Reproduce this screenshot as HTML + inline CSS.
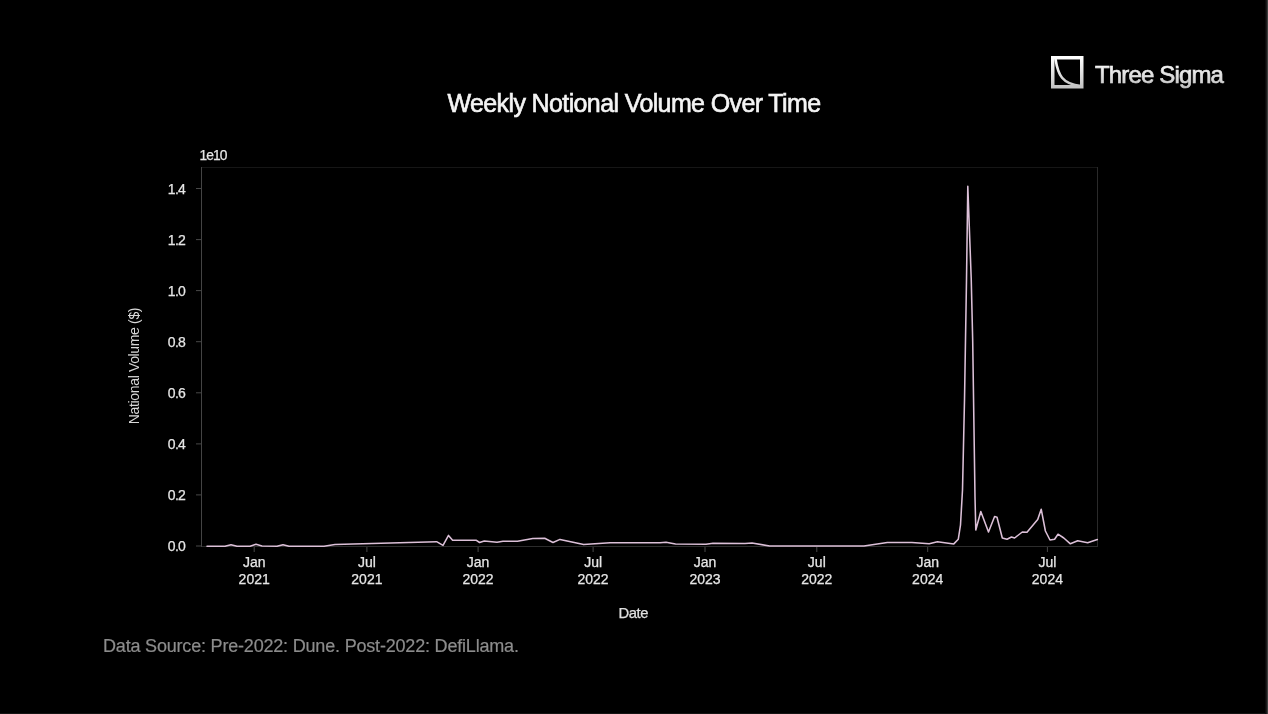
<!DOCTYPE html>
<html>
<head>
<meta charset="utf-8">
<style>
html,body{margin:0;padding:0;background:#000;width:1268px;height:714px;overflow:hidden;}
svg{display:block;filter:blur(0.35px);}
text{font-family:"Liberation Sans",sans-serif;}
</style>
</head>
<body>
<svg width="1268" height="714" viewBox="0 0 1268 714">
<defs>
<linearGradient id="lg" x1="0" y1="0" x2="0" y2="1">
<stop offset="0" stop-color="#ffffff"/>
<stop offset="1" stop-color="#c4c4c4"/>
</linearGradient>
</defs>
<rect x="0" y="0" width="1268" height="714" fill="#000"/>
<g fill="none" stroke="url(#lg)">
<rect x="1052.75" y="57.75" width="29" height="29" stroke-width="3.5"/>
<path d="M1055.5 59 C1058 75 1062 84 1081 86" stroke-width="2.6"/>
</g>
<text x="1095" y="83.4" font-size="24" fill="url(#lg)" stroke="url(#lg)" stroke-width="0.65" letter-spacing="-0.85">Three Sigma</text>
<text x="447.5" y="112.2" font-size="25" fill="#f4f4f4" stroke="#f4f4f4" stroke-width="0.6" letter-spacing="-0.62">Weekly Notional Volume Over Time</text>
<g stroke-width="1" fill="none">
<line x1="202" y1="167.5" x2="1097.5" y2="167.5" stroke="#161616"/>
<line x1="1097.5" y1="167" x2="1097.5" y2="547" stroke="#2a2a2a"/>
<line x1="201.5" y1="167" x2="201.5" y2="547" stroke="#444"/>
<line x1="202" y1="546.5" x2="1098" y2="546.5" stroke="#2c2c2c"/>
</g>
<g stroke="#484848" stroke-width="1"><line x1="196" y1="546.0" x2="201" y2="546.0"/><line x1="196" y1="494.9" x2="201" y2="494.9"/><line x1="196" y1="443.9" x2="201" y2="443.9"/><line x1="196" y1="392.8" x2="201" y2="392.8"/><line x1="196" y1="341.7" x2="201" y2="341.7"/><line x1="196" y1="290.6" x2="201" y2="290.6"/><line x1="196" y1="239.6" x2="201" y2="239.6"/><line x1="196" y1="188.5" x2="201" y2="188.5"/><line x1="254.2" y1="547" x2="254.2" y2="552"/><line x1="366.9" y1="547" x2="366.9" y2="552"/><line x1="478.1" y1="547" x2="478.1" y2="552"/><line x1="593.1" y1="547" x2="593.1" y2="552"/><line x1="705.0" y1="547" x2="705.0" y2="552"/><line x1="816.8" y1="547" x2="816.8" y2="552"/><line x1="927.7" y1="547" x2="927.7" y2="552"/><line x1="1047.4" y1="547" x2="1047.4" y2="552"/></g>
<g font-size="14" fill="#e6e6e6" stroke="#e6e6e6" stroke-width="0.25" text-anchor="end" letter-spacing="-0.7"><text x="185.2" y="551.2">0.0</text><text x="185.2" y="500.1">0.2</text><text x="185.2" y="449.1">0.4</text><text x="185.2" y="398.0">0.6</text><text x="185.2" y="346.9">0.8</text><text x="185.2" y="295.8">1.0</text><text x="185.2" y="244.8">1.2</text><text x="185.2" y="193.7">1.4</text></g>
<g font-size="14" fill="#e6e6e6" stroke="#e6e6e6" stroke-width="0.25" text-anchor="middle"><text x="254.2" y="567.4">Jan</text><text x="254.2" y="583.7">2021</text><text x="366.9" y="567.4">Jul</text><text x="366.9" y="583.7">2021</text><text x="478.1" y="567.4">Jan</text><text x="478.1" y="583.7">2022</text><text x="593.1" y="567.4">Jul</text><text x="593.1" y="583.7">2022</text><text x="705.0" y="567.4">Jan</text><text x="705.0" y="583.7">2023</text><text x="816.8" y="567.4">Jul</text><text x="816.8" y="583.7">2022</text><text x="927.7" y="567.4">Jan</text><text x="927.7" y="583.7">2024</text><text x="1047.4" y="567.4">Jul</text><text x="1047.4" y="583.7">2024</text></g>
<text x="199.5" y="159.8" font-size="13.8" fill="#e6e6e6" stroke="#e6e6e6" stroke-width="0.25" letter-spacing="-0.9">1e10</text>
<text transform="translate(138.7 366) rotate(-90)" font-size="14" fill="#d8d8d8" text-anchor="middle" letter-spacing="-0.35">National Volume ($)</text>
<text x="633.3" y="617.8" font-size="14.8" fill="#e0e0e0" stroke="#e0e0e0" stroke-width="0.25" text-anchor="middle" letter-spacing="-0.45">Date</text>
<text x="103" y="651.8" font-size="18" fill="#8c8c8c" stroke="#8c8c8c" stroke-width="0.2" letter-spacing="-0.19">Data Source: Pre-2022: Dune. Post-2022: DefiLlama.</text>
<path d="M207 546.3 L225 546.3 L231 544.8 L237 546.3 L250 546.3 L256 544.3 L262 546 L277 546.3 L283 544.8 L289 546.3 L324 546.2 L335 544.4 L436.6 541.7 L443 545.4 L448.5 535.4 L452.6 540.2 L476 540.2 L479.6 542.5 L484.3 541 L497 542.2 L503 541.3 L517.5 541.3 L532.8 538.6 L544.7 538.3 L553 542.5 L560 539.4 L583.7 544.6 L595 543.7 L610 542.8 L660 542.8 L666 542.2 L675.5 543.9 L706 544.3 L713 543.3 L745 543.6 L752 543 L769.6 546 L864 546 L887.3 542.6 L911.9 542.4 L929.2 543.7 L937.4 541.7 L953.8 543.9 L958.3 539.2 L960.5 525 L962.5 490 L964.5 400 L966.5 280 L967.8 186.3 L971.2 278 L972.7 341 L975 497 L975.8 530 L980.8 511.5 L988.5 532 L994.6 516.5 L997 517.3 L1002.3 538 L1007 539.2 L1011.5 537 L1014.6 538 L1022.3 532 L1027 532.3 L1037.7 519.6 L1041.2 509.2 L1045.4 531 L1050 540 L1054.6 539.2 L1058 534.2 L1063.8 538 L1070.4 543.8 L1077.7 540.8 L1087.7 542.7 L1097.3 539.6" fill="none" stroke="#dcc0d8" stroke-width="1.55" stroke-linejoin="round" stroke-linecap="round"/>
</svg>
<div style="position:absolute;left:1265px;top:0;width:1px;height:714px;background:#0c0c0c"></div>
<div style="position:absolute;left:1266px;top:0;width:1px;height:714px;background:#1c1c1c"></div>
<div style="position:absolute;left:1267px;top:0;width:1px;height:714px;background:#3e3e3e"></div>
<div style="position:absolute;left:0;top:713px;width:1265px;height:1px;background:#131313"></div>
</body>
</html>
